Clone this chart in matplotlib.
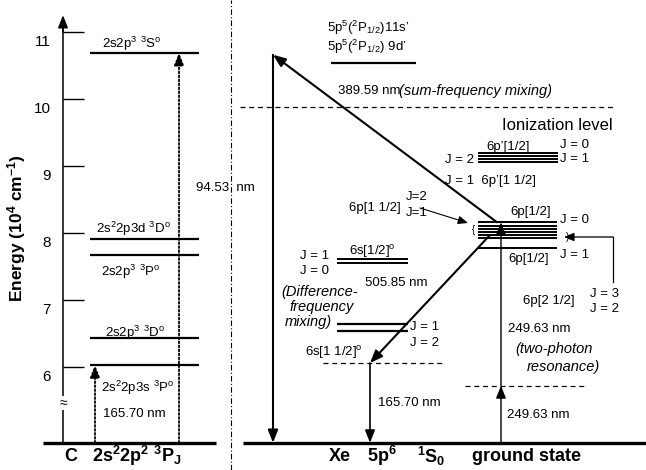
import matplotlib
matplotlib.use("Agg")
import matplotlib.pyplot as plt
from matplotlib.transforms import ScaledTranslation

plt.rcParams.update({
    "font.family": "Liberation Sans",
    "mathtext.fontset": "custom",
    "mathtext.rm": "Liberation Sans",
    "mathtext.it": "Liberation Sans:italic",
    "mathtext.bf": "Liberation Sans:bold",
    "mathtext.default": "rm",
})

# energy positions in units of 1e4 cm^-1 (axis is broken between ground and 6)
GROUND = 4.87
YTICKS = [6, 7, 8, 9, 10, 11]

# carbon side
C_LEVELS = [10.69, 7.91, 7.67, 6.43, 6.03]
C_VUV = [6.03, 10.69]            # 165.70 nm and 94.53 nm targets

# xenon side
XE_UPPER = 10.54                 # 5p5(2P1/2)11s' / 9d'
XE_TOP = 10.66                   # top of the 94.53 nm arrow
XE_6P_PRIME = [9.19, 9.15, 9.10, 9.06]
XE_6P = [8.16, 8.10, 8.06, 8.01, 7.97, 7.93, 7.78]
XE_6S_HALF = [7.61, 7.55]
XE_6S_3HALF = [6.64, 6.54]
SUM_VIRTUAL = 9.88
DIFF_VIRTUAL = 6.06
TWO_PHOTON_VIRTUAL = 5.72
DIFF_START = 7.97                # 505.85 nm leaves the 6p manifold here

W, H = 646, 470
Y_HI = 11 + 32 / 67
Y_LO = 11 - (H - 32) / 67


def py(y):
    # vertical pixel row -> energy axis, used for placing annotations
    return 11 - (y - 32) / 67


fig = plt.figure(figsize=(W / 100, H / 100), dpi=100)
ax = fig.add_axes([0, 0, 1, 1])
ax.set_xlim(0, W)
ax.set_ylim(Y_LO, Y_HI)
for s in ("top", "right", "bottom"):
    ax.spines[s].set_visible(False)
ax.spines["left"].set_position(("data", 63))
ax.spines["left"].set_bounds(GROUND, 11.1)
ax.spines["left"].set_linewidth(1.1)
ax.set_xticks([])
ax.set_yticks(YTICKS)
ax.tick_params(axis="y", direction="in", length=15, width=1, pad=9, labelsize=11)
for lab in ax.get_yticklabels():
    lab.set_transform(lab.get_transform() + ScaledTranslation(0, -0.08, fig.dpi_scale_trans))
ax.set_facecolor("white")


def arrow(x0, y0, x1, y1, ls="-", lw=1.3, hl=0.75, hw=0.3):
    ax.annotate("", xy=(x1, y1), xytext=(x0, y0),
                arrowprops=dict(arrowstyle=f"-|>,head_length={hl},head_width={hw}",
                                color="k", lw=lw, ls=ls, shrinkA=0, shrinkB=0))


def txt(x, y, s, **kw):
    kw.setdefault("fontsize", 9.5)
    kw.setdefault("ha", "left")
    kw.setdefault("va", "center")
    ax.text(x, py(y), s, **kw)


DOT = (0, (1, 1.2))
ITAL = dict(style="italic", fontsize=10.5)

# axis arrow and break
arrow(63, 11.0, 63, 11.25, lw=1.1)
ax.text(63, py(403), "≈", ha="center", va="center", fontsize=10,
        bbox=dict(fc="white", ec="none", pad=0))
ax.text(17, py(228), r"Energy (10$^\mathbf{4}$ cm$^\mathbf{-1}$)", rotation=90,
        ha="center", va="center", fontsize=12.5, fontweight="bold")

# separator between the two panels
ax.axvline(231, color="k", lw=0.8, ls=(0, (5, 2, 1, 2)))

# ground states
ax.hlines(GROUND, 43, 216, color="k", lw=2.4)
ax.hlines(GROUND, 243, W, color="k", lw=2.4)

# carbon levels
ax.hlines(C_LEVELS, 90, 199, color="k", lw=1.6)
arrow(95, GROUND, 95, C_VUV[0], ls=DOT, lw=1.3)
arrow(179, GROUND, 179, C_VUV[1], ls=DOT, lw=1.3)

txt(102, 44, r"2s2p$^3$ $^3$S$^\mathrm{o}$")
txt(96, 229, r"2s$^2$2p3d $^3$D$^\mathrm{o}$")
txt(101, 272, r"2s2p$^3$ $^3$P$^\mathrm{o}$")
txt(105, 333, r"2s2p$^3$ $^3$D$^\mathrm{o}$")
txt(101, 388, r"2s$^2$2p3s $^3$P$^\mathrm{o}$")
txt(103, 414, "165.70 nm")
txt(196, 188, "94.53  nm")

# xenon levels
ax.hlines(XE_UPPER, 331, 416, color="k", lw=1.6)
ax.hlines(XE_6P_PRIME, 478, 558, color="k", lw=1.4)
ax.hlines(XE_6P, 478, 557, color="k", lw=1.4)
ax.hlines(XE_6S_HALF, 337, 408, color="k", lw=1.4)
ax.hlines(XE_6S_3HALF, 337, 408, color="k", lw=1.6)
ax.hlines(SUM_VIRTUAL, 240, 615, color="k", lw=0.9, ls=(0, (4, 3)))
ax.hlines(DIFF_VIRTUAL, 323, 443, color="k", lw=0.9, ls=(0, (4, 3)))
ax.hlines(TWO_PHOTON_VIRTUAL, 465, 584, color="k", lw=0.9, ls=(0, (4, 3)))

# transitions
arrow(273, XE_TOP, 273, GROUND, lw=1.5)
arrow(497, XE_6P[0], 273, XE_TOP, lw=1.5)
arrow(501, GROUND, 501, TWO_PHOTON_VIRTUAL, lw=1.0)
arrow(501, TWO_PHOTON_VIRTUAL, 501, XE_6P[0], lw=1.0)
arrow(490, DIFF_START, 370, DIFF_VIRTUAL, lw=1.5)
arrow(370, DIFF_VIRTUAL, 370, GROUND, lw=1.2)
arrow(420, py(208), 468, py(223), lw=0.8, hl=0.6, hw=0.25)
ax.plot([613, 613], [py(282), py(237)], color="k", lw=0.9)
arrow(613, py(237), 564, py(237), lw=0.9, hl=0.6, hw=0.25)
txt(472, 230, "{", fontsize=7)
txt(566, 237, ")", fontsize=7)

# xenon labels
txt(327, 28, r"5p$^5$($^2$P$_{1/2}$)11s’")
txt(327, 47, r"5p$^5$($^2$P$_{1/2}$) 9d’")
txt(338, 91, "389.59 nm")
txt(399, 91, "(sum-frequency mixing)", **ITAL)
txt(502, 125, "Ionization level", fontsize=12)
txt(486, 147, "6p’[1/2]")
txt(560, 145, "J = 0")
txt(560, 159, "J = 1")
txt(445, 160, "J = 2")
txt(445, 181, "J = 1  6p’[1 1/2]")
txt(349, 208, "6p[1 1/2]")
txt(406, 197, "J=2")
txt(406, 213, "J=1")
txt(510, 212, "6p[1/2]")
txt(560, 220, "J = 0")
txt(508, 259, "6p[1/2]")
txt(560, 255, "J = 1")
txt(523, 301, "6p[2 1/2]")
txt(590, 294, "J = 3")
txt(590, 309, "J = 2")
txt(508, 329, "249.63 nm")
txt(515, 349, "(two-photon", **ITAL)
txt(527, 367, "resonance)", **ITAL)
txt(507, 415, "249.63 nm")
txt(300, 256, "J = 1")
txt(300, 271, "J = 0")
txt(349, 251, r"6s[1/2]$^\mathrm{o}$")
txt(365, 283, "505.85 nm")
txt(281, 292, "(Difference-", **ITAL)
txt(289, 307, "frequency", **ITAL)
txt(285, 322, "mixing)", **ITAL)
txt(410, 327, "J = 1")
txt(410, 343, "J = 2")
txt(305, 352, r"6s[1 1/2]$^\mathrm{o}$")
txt(378, 403, "165.70 nm")

# bottom captions
bold = dict(fontsize=13, fontweight="bold")
txt(64, 456, "C", **bold)
txt(92, 456, r"2s$^\mathbf{2}$2p$^\mathbf{2}$ $^\mathbf{3}$P$_\mathbf{J}$", **bold)
txt(329, 456, "Xe", **bold)
txt(367, 456, r"5p$^\mathbf{6}$", **bold)
txt(417, 456, r"$^\mathbf{1}$S$_\mathbf{0}$", **bold)
txt(472, 456, "ground state", **bold)

fig.savefig("out.png", dpi=100)
